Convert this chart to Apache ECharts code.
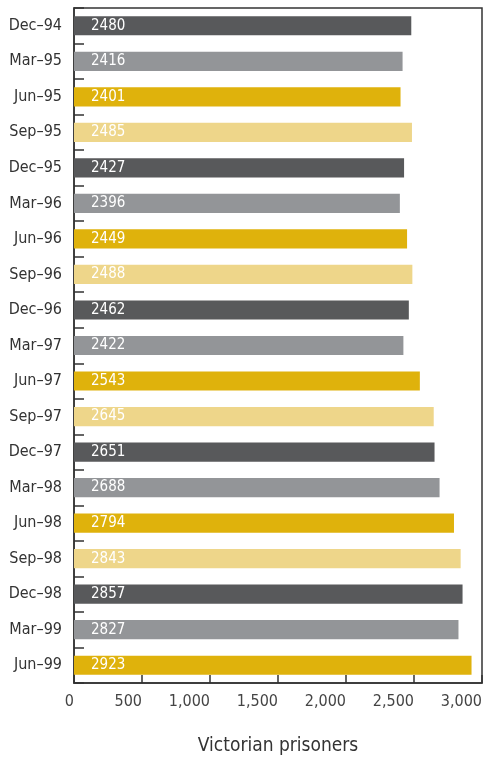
<!DOCTYPE html>
<html><head><meta charset="utf-8">
<script src="https://cdn.jsdelivr.net/npm/echarts@6/dist/echarts.min.js"></script>
<style>html,body{margin:0;padding:0;background:#fff}#c{width:483px;height:758px}</style>
</head><body><div id="c"></div>
<script>
const categories = ["Dec–94","Mar–95","Jun–95","Sep–95","Dec–95","Mar–96","Jun–96","Sep–96","Dec–96","Mar–97","Jun–97","Sep–97","Dec–97","Mar–98","Jun–98","Sep–98","Dec–98","Mar–99","Jun–99"];
const prisoners = [2480,2416,2401,2485,2427,2396,2449,2488,2462,2422,2543,2645,2651,2688,2794,2843,2857,2827,2923];
const palette = ["#58595b","#939598","#dfb20c","#eed68a"];
const FONT = '"Liberation Sans Narrow","DejaVu Sans Condensed",sans-serif';
const chart = echarts.init(document.getElementById('c'), null, {renderer:'canvas'});
chart.setOption({
  animation:false,
  grid:{left:74, right:1, top:8, bottom:75, containLabel:false, outerBoundsMode:'none',
    show:true, borderColor:'#333', borderWidth:1.5, backgroundColor:'transparent'},
  xAxis:{type:'value', min:0, max:3000, interval:500,
    name:'Victorian prisoners', nameLocation:'middle', nameGap:54,
    nameTextStyle:{fontFamily:FONT, fontSize:19, color:'#333'},
    axisLine:{show:true, lineStyle:{color:'#333', width:1.5}},
    axisTick:{show:true, inside:true, length:8, lineStyle:{color:'#333', width:1.5}},
    axisLabel:{fontFamily:FONT, fontSize:16, color:'#444', margin:11, align:'right',
      formatter:v=>v.toLocaleString('en-US')},
    splitLine:{show:false}},
  yAxis:{type:'category', data:categories, inverse:true,
    axisLine:{show:true, lineStyle:{color:'#333', width:1.5}},
    axisTick:{show:true, inside:true, length:10, lineStyle:{color:'#333', width:1.5}},
    axisLabel:{fontFamily:FONT, fontSize:16, color:'#333', margin:12}},
  series:[{type:'bar', barWidth:'54%',
    data:prisoners.map((v,i)=>({value:v, itemStyle:{color:palette[i%4]}})),
    label:{show:true, position:'insideLeft', distance:17, color:'#fff', fontFamily:FONT, fontSize:15}}]
});
</script></body></html>
